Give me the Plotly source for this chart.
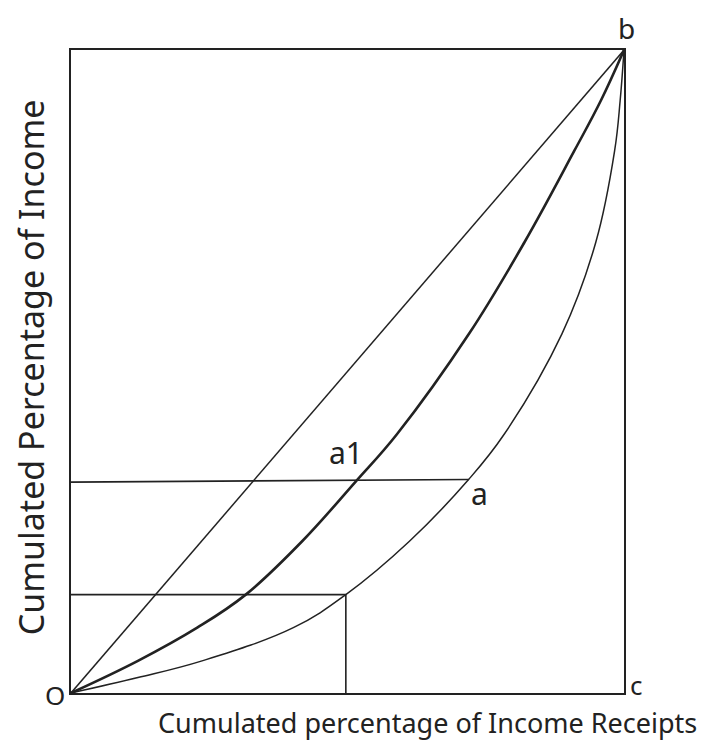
import plotly.graph_objects as go

# Lorenz-type curves (cumulated % of income receipts vs cumulated % of income)
diag_x = [0, 100]
diag_y = [0, 100]

lorenz_x = [0, 12.1, 22.9, 31.6, 41.8, 51.4, 58.9, 72.0, 82.0, 91.0, 95.8, 100]
lorenz_y = [0, 5.0, 10.2, 15.3, 23.6, 32.8, 40.2, 55.9, 70.1, 84.3, 92.1, 100]

outer_x = [0, 12.1, 23.7, 40.3, 49.7, 61.2, 71.9, 78.3, 88.8, 94.9, 98.3, 99.3, 100]
outer_y = [0, 2.4, 5.0, 10.2, 15.3, 23.6, 33.2, 40.2, 55.9, 70.1, 84.3, 92.1, 100]

# reference points
a_point = (71.9, 33.2)
a1_point = (51.4, 32.8)
low_point = (49.7, 15.3)

point_labels = ["O", "b", "c", "a", "a1"]
x_title = "Cumulated percentage of Income Receipts"
y_title = "Cumulated Percentage of Income"

INK = "#222222"
FONT = "Noto Sans"

fig = go.Figure()

# horizontal guide through a1 to a
fig.add_trace(go.Scatter(x=[0, a_point[0]], y=[a1_point[1], a_point[1]], mode="lines",
                         line=dict(color=INK, width=1.6), hoverinfo="skip"))
# lower guide: horizontal then vertical
fig.add_trace(go.Scatter(x=[0, low_point[0], low_point[0]], y=[low_point[1], low_point[1], 0],
                         mode="lines", line=dict(color=INK, width=1.6), hoverinfo="skip"))
# equality diagonal
fig.add_trace(go.Scatter(x=diag_x, y=diag_y, mode="lines",
                         line=dict(color=INK, width=1.5), hoverinfo="skip"))
# thick curve
fig.add_trace(go.Scatter(x=lorenz_x, y=lorenz_y, mode="lines",
                         line=dict(color=INK, width=2.6, shape="spline", smoothing=1.1),
                         hoverinfo="skip"))
# outer curve
fig.add_trace(go.Scatter(x=outer_x, y=outer_y, mode="lines",
                         line=dict(color=INK, width=1.5, shape="spline", smoothing=1.1),
                         hoverinfo="skip"))

ann = []
lab_font = dict(family=FONT, size=30, color=INK)
ann.append(dict(x=0, y=0, xref="x", yref="y", text=point_labels[0], showarrow=False,
                xanchor="center", yanchor="middle", xshift=-16, yshift=-2,
                font=dict(family=FONT, size=26, color=INK)))
ann.append(dict(x=100, y=100, xref="x", yref="y", text=point_labels[1], showarrow=False,
                xanchor="center", yanchor="middle", xshift=2, yshift=22,
                font=dict(family=FONT, size=28, color=INK)))
ann.append(dict(x=100, y=0, xref="x", yref="y", text=point_labels[2], showarrow=False,
                xanchor="center", yanchor="middle", xshift=12, yshift=8,
                font=dict(family=FONT, size=26, color=INK)))
ann.append(dict(x=a_point[0], y=a_point[1], xref="x", yref="y", text=point_labels[3], showarrow=False,
                xanchor="center", yanchor="middle", xshift=11, yshift=-14, font=lab_font))
ann.append(dict(x=a1_point[0], y=a1_point[1], xref="x", yref="y", text=point_labels[4], showarrow=False,
                xanchor="center", yanchor="middle", xshift=-9, yshift=30, font=lab_font))
ann.append(dict(x=0.644, y=-0.046, xref="paper", yref="paper", text=x_title, showarrow=False,
                xanchor="center", yanchor="middle", font=dict(family=FONT, size=27, color=INK)))
ann.append(dict(x=-0.073, y=0.506, xref="paper", yref="paper", text=y_title, showarrow=False,
                textangle=-90, xanchor="center", yanchor="middle",
                font=dict(family=FONT, size=34, color=INK)))

axis_common = dict(range=[0, 100], showgrid=False, zeroline=False, showticklabels=False,
                   ticks="", showline=True, mirror=True, linecolor=INK, linewidth=2,
                   fixedrange=True)

# the page body adds an 8px offset; size the figure to fill the 720x740 window
fig.update_layout(
    width=712, height=732,
    margin=dict(l=63, r=96, t=42, b=47),
    paper_bgcolor="white", plot_bgcolor="white",
    showlegend=False,
    xaxis=axis_common,
    yaxis=axis_common,
    annotations=ann,
)

fig.write_html("out.html")
